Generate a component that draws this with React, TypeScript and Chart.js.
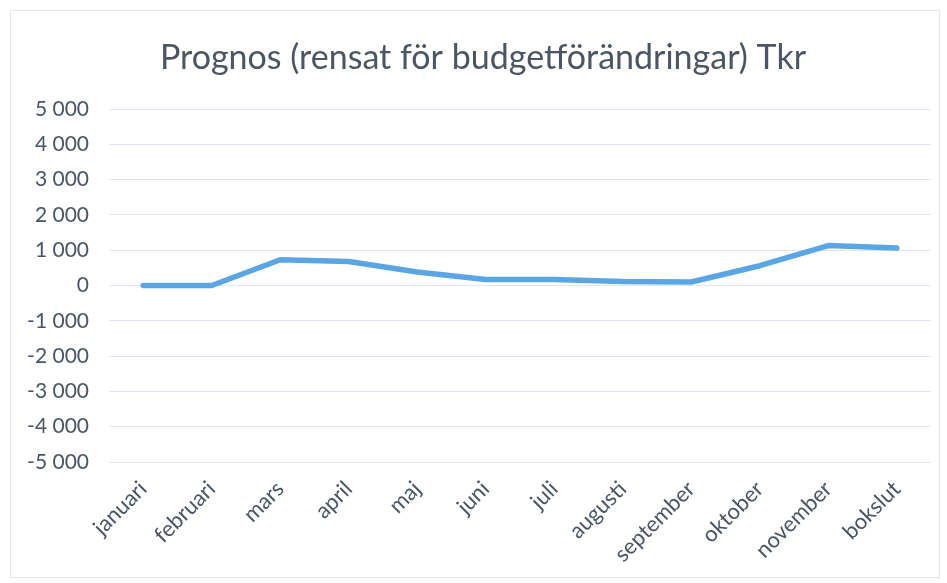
import React, { useEffect, useRef } from "react";
import { Chart, registerables } from "chart.js";

Chart.register(...registerables);

const TITLE = "Prognos (rensat för budgetförändringar) Tkr";
const categories = [
  "januari", "februari", "mars", "april", "maj", "juni",
  "juli", "augusti", "september", "oktober", "november", "bokslut",
];
const prognosValues = [0, 0, 730, 680, 380, 170, 170, 110, 100, 560, 1130, 1060];
const yMin = -5000;
const yMax = 5000;
const yStep = 1000;

const fmt = (v: number) => {
  const s = Math.abs(v).toString().replace(/\B(?=(\d{3})+(?!\d))/g, " ");
  return (v < 0 ? "-" : "") + s;
};

const titlePlugin = {
  id: "offsetTitle",
  afterDraw(chart: any) {
    const ctx = chart.ctx;
    ctx.save();
    ctx.font = "400 34px Lato";
    ctx.fillStyle = "#4b5563";
    ctx.textAlign = "center";
    ctx.textBaseline = "middle";
    ctx.fillText(TITLE, 483, 58);
    ctx.restore();
  },
};

export default function App() {
  const ref = useRef<HTMLCanvasElement | null>(null);
  useEffect(() => {
    if (!ref.current) return;
    const chart = new Chart(ref.current, {
      type: "line",
      data: {
        labels: categories,
        datasets: [
          {
            label: "Prognos",
            data: prognosValues,
            borderColor: "#5aa6e4",
            borderWidth: 5.5,
            pointRadius: 0,
            tension: 0,
            borderCapStyle: "round",
            borderJoinStyle: "round",
            fill: false,
          },
        ],
      },
      options: {
        animation: false,
        responsive: false,
        maintainAspectRatio: false,
        layout: { padding: { left: 0, right: 16, top: 109, bottom: 0 } },
        plugins: {
          legend: { display: false },
          tooltip: { enabled: false },
          title: { display: false },
        },
        scales: {
          x: {
            offset: true,
            grid: { display: false },
            border: { display: false },
            ticks: {
              color: "#4a5566",
              font: { family: "Lato", size: 22 },
              minRotation: 45,
              maxRotation: 45,
              padding: 6,
            },
            afterFit: (s: any) => {
              s.height = 121;
            },
          },
          y: {
            min: yMin,
            max: yMax,
            grid: { color: "#dde6f2", lineWidth: 1, drawTicks: false },
            border: { display: false },
            ticks: {
              stepSize: yStep,
              color: "#4a5566",
              font: { family: "Lato", size: 21 },
              padding: 20,
              callback: (v: any) => fmt(Number(v)),
            },
            afterFit: (s: any) => {
              s.width = 109;
            },
          },
        },
      },
      plugins: [titlePlugin],
    } as any);
    return () => chart.destroy();
  }, []);
  return (
    <div style={{ position: "fixed", left: 0, top: 0, width: 947, height: 583, background: "#fff" }}>
      <div style={{ position: "absolute", left: 10, top: 10, width: 928, height: 566, border: "1px solid #e3e6ea" }} />
      <canvas ref={ref} width={947} height={583} style={{ position: "absolute", left: 0, top: 0 }} />
    </div>
  );
}
